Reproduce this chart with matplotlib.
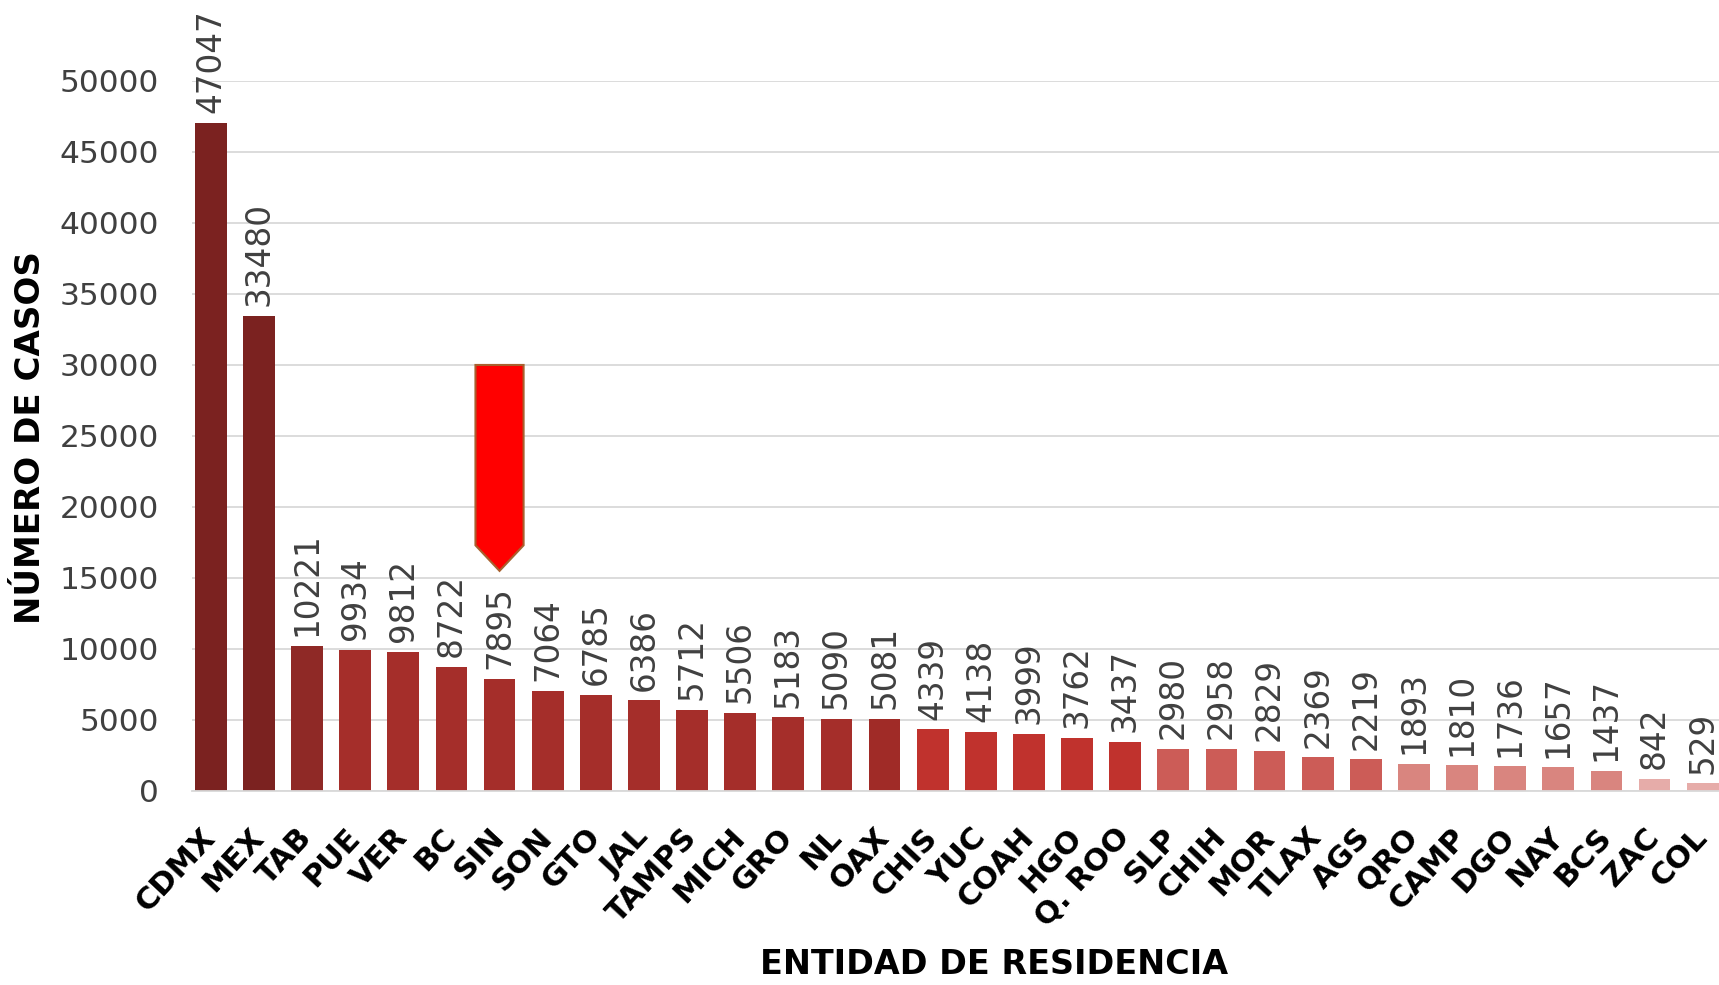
import matplotlib.pyplot as plt
from matplotlib.patches import Polygon

estados = ["CDMX", "MEX", "TAB", "PUE", "VER", "BC", "SIN", "SON", "GTO", "JAL",
           "TAMPS", "MICH", "GRO", "NL", "OAX", "CHIS", "YUC", "COAH", "HGO", "Q. ROO",
           "SLP", "CHIH", "MOR", "TLAX", "AGS", "QRO", "CAMP", "DGO", "NAY", "BCS",
           "ZAC", "COL"]
casos = [47047, 33480, 10221, 9934, 9812, 8722, 7895, 7064, 6785, 6386,
         5712, 5506, 5183, 5090, 5081, 4339, 4138, 3999, 3762, 3437,
         2980, 2958, 2829, 2369, 2219, 1893, 1810, 1736, 1657, 1437,
         842, 529]
colores = (["#7B2220"] * 2 + ["#8F2926"] + ["#A52E2A"] * 11 + ["#A02B27"]
           + ["#C0322D"] * 5 + ["#CC5C57"] * 5 + ["#D9857F"] * 5 + ["#E6ACA9"] * 2)
colores = colores[:len(casos)]
yticks = [0, 5000, 10000, 15000, 20000, 25000, 30000, 35000, 40000, 45000, 50000]

# flecha que señala SIN
flecha_idx = 6
flecha_top, flecha_hombro, flecha_punta = 30000, 17300, 15500

fig = plt.figure(figsize=(17.19, 9.85), dpi=100)
ax = fig.add_axes([0.1117, 0.197, 0.8883, 0.7208])

x = list(range(len(casos)))
ax.bar(x, casos, width=0.66, color=colores, zorder=2)

for xi, v in zip(x, casos):
    ax.annotate(str(v), (xi, v), xytext=(0, 7), textcoords="offset points",
                rotation=90, ha="center", va="bottom", fontsize=23.5,
                color="#404040", annotation_clip=False)

w = 0.5
ax.add_patch(Polygon([(flecha_idx - w, flecha_top), (flecha_idx + w, flecha_top),
                      (flecha_idx + w, flecha_hombro), (flecha_idx, flecha_punta),
                      (flecha_idx - w, flecha_hombro)],
                     closed=True, facecolor="#FF0000", edgecolor="#A8602E",
                     linewidth=1.5, zorder=4))

ax.set_xlim(-0.39, len(casos) - 1 + 0.34)
ax.set_ylim(0, 50000)
ax.set_yticks(yticks)
ax.set_yticklabels([str(t) for t in yticks], fontsize=22.5, color="#404040")
ax.set_xticks(x)
ax.set_xticklabels(estados, rotation=47, ha="right", va="center",
                   rotation_mode="anchor", fontsize=22, fontweight="bold",
                   color="black")
ax.tick_params(axis="both", length=0)
ax.tick_params(axis="x", pad=30)
ax.tick_params(axis="y", pad=24)
ax.grid(axis="y", color="#D9D9D9", linewidth=1.3, zorder=0)
for s in ["top", "right", "left"]:
    ax.spines[s].set_visible(False)
ax.spines["bottom"].set_color("#D9D9D9")
ax.spines["bottom"].set_linewidth(1.3)

fig.text(0.578, 0.021, "ENTIDAD DE RESIDENCIA", ha="center", va="center",
         fontsize=24, fontweight="bold")
fig.text(0.018, 0.556, "NÚMERO DE CASOS", ha="center", va="center",
         rotation=90, fontsize=24.5, fontweight="bold")

fig.savefig("out.png", dpi=100)
